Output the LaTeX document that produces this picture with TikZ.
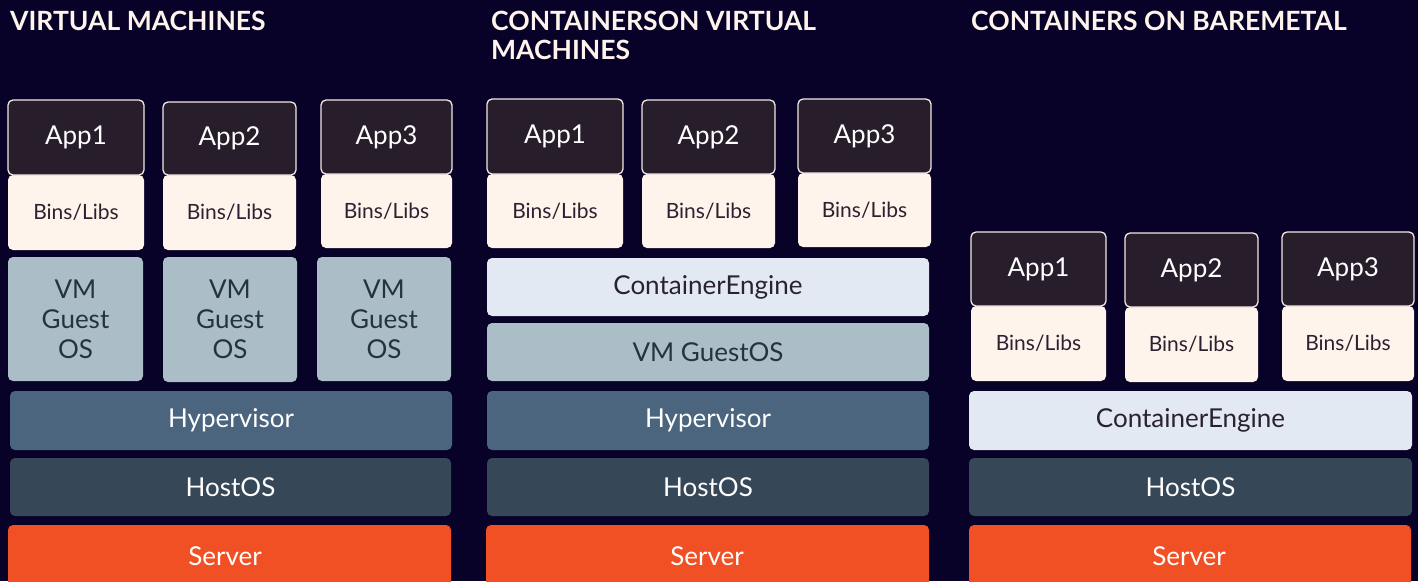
\documentclass[tikz,border=0pt]{standalone}
\usepackage{fontspec}
\setmainfont{Lato}
\definecolor{bg}{HTML}{080128}
\definecolor{appfill}{HTML}{281D2B}
\definecolor{appline}{HTML}{F2E8E2}
\definecolor{binfill}{HTML}{FFF4EC}
\definecolor{bintext}{HTML}{2A2230}
\definecolor{vmfill}{HTML}{ABBEC7}
\definecolor{vmtext}{HTML}{26333F}
\definecolor{cefill}{HTML}{E3E9F2}
\definecolor{hypfill}{HTML}{4B657F}
\definecolor{hostfill}{HTML}{364758}
\definecolor{srvfill}{HTML}{F05024}
\definecolor{titletext}{HTML}{FFF4EC}
\tikzset{
  mainfont/.style={font=\fontsize{26}{30}\selectfont},
  blk/.style={rounded corners=5pt, inner sep=0pt, outer sep=0pt, align=center},
  appbox/.style={blk, fill=appfill, draw=appline, line width=1.3pt, text=white, mainfont},
  binbox/.style={blk, fill=binfill, text=bintext, font=\fontsize{21}{24}\selectfont},
  vmbox/.style={blk, fill=vmfill, text=vmtext, font=\fontsize{26}{30}\selectfont},
  cebox/.style={blk, fill=cefill, text=bintext, mainfont},
  hypbox/.style={blk, fill=hypfill, text=white, mainfont},
  hostbox/.style={blk, fill=hostfill, text=white, mainfont},
  srvbox/.style={blk, fill=srvfill, text=white, mainfont},
  ttl/.style={anchor=north west, inner sep=0pt, text=titletext, align=left, font=\fontsize{26.5}{29}\selectfont\bfseries},
}
\newcommand{\blk}[7]{%
  \node[#2, minimum width={(#5-#3)*1pt}, minimum height={(#6-#4)*1pt}] (#1) at ({(#3+#5)/2},{(#4+#6)/2}) {#7};}
\begin{document}
\begin{tikzpicture}[x=1pt,y=-1pt]
\useasboundingbox (0,0) rectangle (1418,581);
\clip (0,0) rectangle (1418,581);
\fill[bg] (0,0) rectangle (1418,581);
% titles
\node[ttl] (t1) at (10,11) {VIRTUAL MACHINES};
\node[ttl] (t2) at (491,11) {CONTAINERSON VIRTUAL\\MACHINES};
\node[ttl] (t3) at (971,11) {CONTAINERS ON BAREMETAL};
% column 1
\blk{b1a}{binbox}{8}{175}{144}{250}{Bins/Libs}
\blk{b1b}{binbox}{163}{175}{296}{250}{Bins/Libs}
\blk{b1c}{binbox}{321}{174}{452}{248}{Bins/Libs}
\blk{a1a}{appbox}{8}{100}{144}{175}{App1}
\blk{a1b}{appbox}{163}{102}{296}{175}{App2}
\blk{a1c}{appbox}{321}{100}{452}{174}{App3}
\blk{v1a}{vmbox}{8}{257}{143}{381}{VM\\Guest\\OS}
\blk{v1b}{vmbox}{163}{257}{297}{382}{VM\\Guest\\OS}
\blk{v1c}{vmbox}{317}{257}{451}{381}{VM\\Guest\\OS}
\blk{h1}{hypbox}{10}{391}{452}{450}{Hypervisor}
\blk{o1}{hostbox}{10}{458}{451}{516}{HostOS}
\blk{s1}{srvbox}{8}{525}{451}{595}{}
\node[text=white, mainfont] (s1t) at (225,556) {Server};
% column 2
\blk{b2a}{binbox}{487}{174}{623}{248}{Bins/Libs}
\blk{b2b}{binbox}{642}{174}{775}{248}{Bins/Libs}
\blk{b2c}{binbox}{798}{173}{931}{247}{Bins/Libs}
\blk{a2a}{appbox}{487}{99}{623}{174}{App1}
\blk{a2b}{appbox}{642}{100}{775}{174}{App2}
\blk{a2c}{appbox}{798}{99}{931}{173}{App3}
\blk{c2}{cebox}{487}{258}{929}{316}{ContainerEngine}
\blk{g2}{vmbox}{487}{323}{929}{381}{VM GuestOS}
\blk{h2}{hypbox}{487}{391}{929}{450}{Hypervisor}
\blk{o2}{hostbox}{487}{458}{929}{516}{HostOS}
\blk{s2}{srvbox}{486}{525}{929}{595}{}
\node[text=white, mainfont] (s2t) at (707,556) {Server};
% column 3
\blk{b3a}{binbox}{971}{306}{1106}{381}{Bins/Libs}
\blk{b3b}{binbox}{1125}{307}{1258}{382}{Bins/Libs}
\blk{b3c}{binbox}{1282}{306}{1414}{381}{Bins/Libs}
\blk{a3a}{appbox}{971}{232}{1106}{306}{App1}
\blk{a3b}{appbox}{1125}{233}{1258}{307}{App2}
\blk{a3c}{appbox}{1282}{232}{1414}{306}{App3}
\blk{c3}{cebox}{969}{391}{1412}{450}{ContainerEngine}
\blk{o3}{hostbox}{969}{458}{1412}{516}{HostOS}
\blk{s3}{srvbox}{969}{525}{1411}{595}{}
\node[text=white, mainfont] (s3t) at (1189,556) {Server};
\end{tikzpicture}
\end{document}
